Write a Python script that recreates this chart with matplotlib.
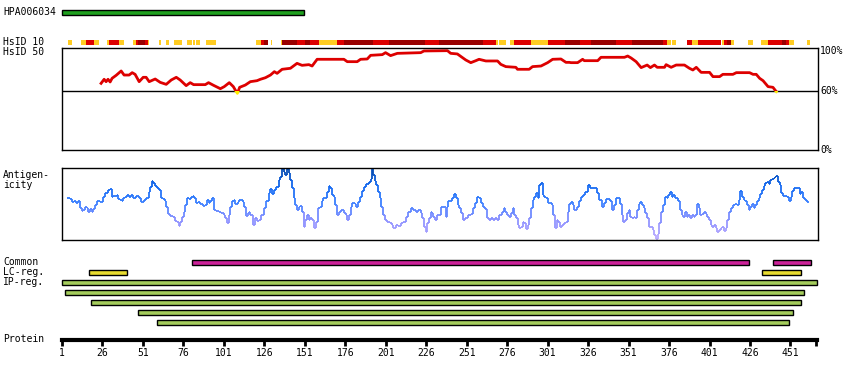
import numpy as np
import matplotlib
matplotlib.use('Agg')
import matplotlib.pyplot as plt
from matplotlib.collections import LineCollection
from matplotlib.colors import LinearSegmentedColormap, Normalize
from matplotlib.patches import Rectangle

# ---- data (residue positions) ----
protein_len = 467.4
antigen_name = 'HPA006034'
antigen_span = (1, 150.4)

# HsID 10 strip: (start, end, level) 1=low, 2=mid, 3=high
hsid10 = [(5, 7, 1), (13, 16, 1), (16, 21, 2), (21, 24, 1), (29, 30, 1), (30, 36, 2), (36, 39, 1),
          (45, 47, 1), (47, 48, 2), (48, 52, 3), (52, 54, 2), (54, 55, 1), (61, 62, 1), (65, 67, 1),
          (70, 75, 1), (78, 81, 1), (82, 83, 1), (84, 86, 1), (90, 96, 1), (121, 124, 1), (124, 126, 2),
          (126, 128, 3), (130, 131, 1), (136, 137, 1), (137, 146, 3), (146, 151, 2), (151, 154, 3),
          (154, 160, 2), (160, 171, 1), (171, 175, 2), (175, 193, 3), (193, 203, 2), (203, 225, 3),
          (225, 234, 2), (234, 261, 3), (261, 269, 2), (269, 270.5, 1), (271, 275, 1), (278, 280, 1),
          (280, 291, 2), (291, 301, 1), (301, 312, 2), (312, 321, 3), (321, 328, 2), (328, 343, 3),
          (343, 353, 2), (353, 372, 3), (372, 375, 2), (375, 377, 1), (378, 380, 1), (387, 390, 2),
          (390, 394, 1), (394, 408, 2), (409, 410, 1), (410, 412, 2), (412, 414, 3), (414, 416, 1),
          (425, 428, 1), (433, 437, 1), (437, 446, 2), (446, 448, 3), (448, 450, 2), (450, 453, 1),
          (461, 463, 1)]

# HsID 50 identity curve (%)
hs50_res = [25.1, 27.0, 28.2, 29.4, 30.7, 31.9, 34.4, 37.5, 39.3, 42.4, 44.3, 46.1, 48.6, 51.1, 52.9,
            54.8, 58.5, 61.6, 65.3, 68.4, 71.5, 73.9, 77.6, 80.1, 82.2, 89.4, 91.4, 94.5, 98.7, 101.1,
            104.2, 106.7, 107.9, 109.2, 110.6, 114.1, 117.2, 121.3, 123.4, 126.5, 129.6, 132.0, 133.7,
            136.8, 141.9, 146.0, 149.1, 153.3, 155.3, 158.4, 174.9, 177.0, 183.1, 185.2, 189.3, 191.4,
            198.6, 200.6, 203.7, 207.9, 222.3, 224.3, 238.8, 240.8, 244.9, 250.1, 253.2, 256.3, 258.3,
            262.5, 269.7, 271.7, 274.8, 281.0, 282.0, 289.2, 291.3, 296.5, 300.6, 303.7, 308.8, 311.9,
            314.0, 315.0, 319.1, 322.2, 323.2, 331.5, 333.5, 348.0, 350.0, 352.1, 355.2, 358.3, 362.0,
            364.0, 366.5, 368.2, 372.7, 373.7, 376.8, 379.9, 385.0, 388.1, 390.2, 392.3, 395.3, 400.5,
            402.6, 406.7, 408.7, 414.9, 417.0, 425.2, 427.3, 429.3, 431.4, 433.5, 436.6, 439.6, 441.7]
hs50_pct = [67.3, 71.4, 69.0, 71.4, 68.7, 72.4, 75.4, 79.8, 75.7, 75.7, 78.1, 76.4, 69.0, 73.4, 73.4,
            69.0, 71.7, 68.3, 66.3, 70.7, 73.4, 70.7, 65.0, 68.0, 66.0, 66.0, 68.0, 65.3, 61.9, 64.0,
            68.0, 64.0, 60.6, 57.2, 63.3, 65.6, 69.0, 70.0, 71.4, 73.0, 75.7, 79.1, 77.4,
            81.5, 82.5, 87.5, 85.5, 86.2, 84.8, 91.6, 91.6, 89.2, 89.2, 91.6, 91.9, 95.6,
            96.3, 98.3, 95.3, 97.6, 98.3, 100.0, 100.3, 97.6, 97.0, 90.9, 88.2, 90.2, 91.6,
            89.9, 89.9, 86.5, 84.2, 83.5, 81.5, 81.5, 84.2, 84.8, 88.2, 91.6, 91.9, 88.5,
            88.5, 88.2, 88.2, 91.6, 90.2, 90.2, 93.6, 93.6, 94.9, 92.9, 89.2, 83.2, 85.8,
            83.2, 85.8, 83.5, 83.5, 86.2, 83.5, 85.8, 85.8, 82.5, 80.8, 83.5, 78.4, 78.4,
            74.1, 74.1, 76.4, 76.4, 78.1, 78.1, 76.4, 76.4, 72.4, 70.0, 64.0, 63.3, 58.9]
hs50_cut = 60

# Antigenicity profile
ant_res = [4.3, 5.9, 7.0, 8.4, 9.6, 11.1, 12.1, 13.1, 14.2, 15.2, 16.2, 17.3, 18.3, 19.3, 20.4, 21.4,
           22.4, 24.5, 26.1, 27.6, 29.6, 30.7, 31.7, 32.7, 34.8, 35.8, 36.8, 37.9, 38.9, 40.0, 41.0,
           42.4, 43.6, 45.1, 46.7, 48.2, 49.6, 51.3, 52.9, 54.4, 55.4, 56.4, 57.4, 58.5, 59.5, 61.0,
           62.0, 63.6, 64.7, 65.3, 66.1, 67.8, 69.4, 70.8, 71.9, 72.9, 73.9, 75.0, 76.0, 77.0, 78.0,
           79.5, 80.5, 81.8, 82.6, 83.6, 84.8, 86.3, 87.9, 89.4, 90.4, 91.4, 92.5, 93.5, 94.5, 96.0,
           97.6, 99.1, 100.7, 101.7, 102.8, 103.8, 104.8, 105.9, 106.9, 107.9, 109.4, 110.4, 111.4,
           112.5, 113.5, 114.5, 115.8, 116.6, 117.2, 118.6, 119.9, 121.3, 122.8, 124.0, 125.4, 126.9,
           128.5, 129.6, 130.6, 131.6, 133.1, 134.7, 135.7, 136.8, 137.8, 138.8, 139.9, 140.9, 141.9,
           142.9, 144.0, 145.0, 146.0, 147.1, 148.1, 149.1, 150.2, 151.2, 152.2, 153.2, 154.3, 155.3,
           156.7, 157.8, 159.0, 160.0, 161.1, 162.1, 163.1, 164.2, 165.6, 166.6, 167.7, 168.7, 169.7,
           170.8, 171.8, 173.4, 174.9, 175.9, 176.9, 178.0, 179.0, 180.0, 181.5, 182.5, 183.5, 184.6,
           185.8, 187.2, 188.7, 190.3, 191.4, 192.4, 193.0, 193.8, 194.9, 195.9, 196.9, 198.0, 199.0,
           200.2, 201.7, 203.1, 204.3, 205.4, 206.8, 208.5, 209.9, 211.3, 213.0, 214.4, 216.1, 217.5,
           219.2, 220.6, 222.3, 223.3, 224.3, 225.3, 226.4, 227.4, 228.4, 229.5, 230.1, 231.4, 232.2,
           233.7, 234.7, 236.3, 237.6, 238.4, 239.2, 240.4, 241.9, 242.9, 244.0, 245.0, 246.0, 247.0,
           248.1, 249.5, 251.2, 253.2, 254.7, 255.9, 257.3, 258.4, 259.4, 260.8, 262.1, 263.1, 264.6,
           265.6, 266.6, 268.1, 269.3, 270.7, 272.2, 273.4, 274.2, 275.5, 276.9, 278.0, 279.0, 280.0,
           281.0, 282.1, 283.1, 284.1, 285.2, 286.2, 287.2, 288.2, 289.3, 290.3, 291.3, 292.4, 293.4,
           294.4, 295.5, 296.5, 297.5, 298.5, 299.6, 300.6, 302.0, 303.1, 304.1, 305.1, 306.2, 307.2,
           308.2, 309.3, 310.5, 311.9, 313.0, 314.0, 315.0, 316.1, 317.1, 318.5, 319.8, 321.2, 322.6,
           323.9, 325.3, 326.8, 328.4, 329.4, 330.9, 332.5, 334.0, 335.2, 336.7, 338.1, 339.1, 340.4,
           341.4, 342.8, 344.3, 345.3, 346.3, 347.3, 348.6, 349.6, 350.6, 351.7, 352.7, 353.7, 354.7,
           355.8, 356.8, 357.8, 358.9, 359.9, 360.9, 362.0, 363.0, 364.4, 365.5, 366.5, 367.5, 368.6,
           369.6, 370.6, 371.6, 373.1, 374.1, 375.1, 376.2, 377.2, 378.2, 379.3, 380.3, 381.3, 382.4,
           383.4, 384.4, 385.4, 386.5, 387.5, 388.5, 389.6, 390.8, 391.8, 392.9, 393.9, 394.9, 396.0,
           397.0, 398.0, 399.0, 400.1, 401.1, 402.1, 403.2, 404.2, 405.2, 406.2, 407.3, 408.3, 409.3,
           410.4, 411.4, 412.4, 413.5, 414.9, 416.3, 417.4, 418.4, 419.4, 420.5, 421.5, 422.5, 423.6,
           424.6, 425.6, 426.6, 427.7, 428.7, 429.7, 430.8, 431.8, 432.8, 433.9, 434.9, 435.9, 436.9,
           438.0, 439.0, 440.0, 441.1, 441.7, 442.7, 443.7, 444.8, 445.8, 447.2, 448.3, 449.5, 450.5,
           451.6, 452.6, 454.0, 455.1, 456.1, 457.1, 458.2, 459.2, 460.6, 461.9]
ant_val = [0.16, 0.13, 0.05, 0.08, 0.02, 0.07, -0.10, -0.20, -0.17, -0.07, -0.12, -0.21, -0.14, -0.21,
           -0.14, -0.03, 0.07, 0.05, 0.20, 0.30, 0.39, 0.42, 0.20, 0.23, 0.25, 0.14, 0.11, 0.08, 0.16,
           0.20, 0.25, 0.19, 0.25, 0.18, 0.21, 0.16, 0.05, 0.12, 0.16, 0.34, 0.48, 0.64, 0.57, 0.51,
           0.45, 0.38, 0.18, 0.14, 0.07, -0.07, -0.29, -0.32, -0.35, -0.47, -0.51, -0.60, -0.49, -0.35,
           -0.21, -0.03, 0.18, 0.14, 0.20, 0.23, 0.18, 0.02, 0.05, -0.01, -0.05, -0.03, 0.11, 0.02,
           0.08, 0.18, -0.17, -0.20, -0.21, -0.26, -0.31, -0.40, -0.54, -0.31, -0.07, 0.08, 0.12,
           -0.01, 0.05, 0.12, 0.10, 0.05, -0.07, -0.32, -0.26, -0.21, -0.31, -0.57, -0.40, -0.47,
           -0.45, -0.31, -0.12, 0.07, 0.30, 0.42, 0.27, 0.39, 0.48, 0.67, 0.76, 0.97, 0.90, 0.81,
           0.97, 0.85, 0.67, 0.44, 0.18, -0.03, -0.17, -0.07, -0.05, -0.21, -0.63, -0.45, -0.31,
           -0.45, -0.40, -0.45, -0.68, -0.49, -0.12, -0.07, 0.07, 0.16, 0.18, 0.34, 0.51, 0.44, 0.25,
           0.20, -0.03, -0.31, -0.21, -0.17, -0.26, -0.31, -0.45, -0.31, -0.07, 0.02, -0.01, -0.07,
           0.05, 0.20, 0.36, 0.48, 0.55, 0.62, 0.69, 0.99, 0.81, 0.64, 0.53, 0.34, 0.16, -0.07, -0.31,
           -0.45, -0.51, -0.54, -0.57, -0.68, -0.57, -0.60, -0.54, -0.49, -0.35, -0.21, -0.10, -0.17,
           -0.23, -0.17, -0.26, -0.40, -0.63, -0.77, -0.54, -0.40, -0.21, -0.26, -0.35, -0.45, -0.31,
           -0.31, -0.07, -0.07, -0.35, -0.07, 0.07, 0.08, 0.16, 0.27, 0.16, -0.03, -0.12, -0.26, -0.45,
           -0.40, -0.31, -0.29, -0.12, 0.02, 0.20, 0.16, 0.02, -0.07, -0.14, -0.40, -0.45, -0.38,
           -0.45, -0.40, -0.45, -0.31, -0.21, -0.10, -0.21, -0.31, -0.35, -0.26, -0.12, -0.31, -0.40,
           -0.58, -0.66, -0.63, -0.49, -0.54, -0.70, -0.57, -0.40, -0.12, 0.11, 0.20, 0.30, 0.16,
           0.53, 0.57, 0.25, 0.20, 0.16, 0.02, 0.02, -0.03, -0.31, -0.68, -0.45, -0.49, -0.63, -0.58,
           -0.54, -0.49, -0.21, -0.01, 0.05, -0.03, -0.17, -0.07, 0.07, 0.20, 0.25, 0.34, 0.53, 0.45,
           0.45, 0.44, 0.30, 0.11, -0.07, 0.02, 0.14, 0.14, 0.07, -0.17, -0.03, 0.16, 0.16, -0.01,
           -0.31, -0.49, -0.45, -0.26, -0.17, -0.35, -0.40, -0.35, -0.40, -0.17, -0.01, 0.05, -0.03,
           -0.12, -0.26, -0.40, -0.63, -0.63, -0.72, -0.86, -0.97, -0.82, -0.54, -0.21, -0.03, 0.20,
           0.16, 0.25, 0.34, 0.20, 0.25, 0.16, 0.18, 0.07, -0.17, -0.31, -0.35, -0.21, -0.35, -0.31,
           -0.40, -0.31, -0.35, -0.31, -0.01, -0.12, -0.31, -0.29, -0.21, -0.29, -0.35, -0.45, -0.57,
           -0.63, -0.58, -0.66, -0.77, -0.72, -0.68, -0.63, -0.75, -0.68, -0.45, -0.21, -0.10, -0.03,
           -0.01, -0.03, 0.11, 0.36, 0.20, 0.11, 0.08, -0.03, -0.17, -0.07, -0.01, -0.12, -0.03, 0.07,
           0.16, 0.27, 0.39, 0.51, 0.57, 0.62, 0.55, 0.67, 0.69, 0.73, 0.76, 0.79, 0.62, 0.53, 0.30,
           0.23, 0.23, 0.20, 0.08, 0.20, 0.36, 0.45, 0.45, 0.44, 0.27, 0.32, 0.16, 0.11, 0.05, 0.05]

# region tracks: (start, end)
common = [(81.2, 425.2), (440.1, 463.5)]
lc_reg = [(17.9, 41.0), (433.2, 457.3)]
ip_reg = [(1.2, 467.2), (3.0, 459.2), (19.1, 457.3), (48.2, 452.4), (59.9, 449.9)]

tick_pos = [1, 26, 51, 76, 101, 126, 151, 176, 201, 226, 251, 276, 301, 326, 351, 376, 401, 426, 451, 467]
tick_lab = [str(t) for t in tick_pos[:-1]] + ['']

hsid10_colors = {1: '#ffcc22', 2: '#dd0000', 3: '#990000'}

# ---- layout in pixels ----
W, H = 850, 380
FONT = dict(family='DejaVu Sans Mono', fontsize=7, color='black')


def box(x0, y0, x1, y1):
    return [x0 / W, 1 - y1 / H, (x1 - x0) / W, (y1 - y0) / H]


def label(x, y, s, **kw):
    fig.text(x / W, 1 - y / H, s, va='center', ha=kw.pop('ha', 'left'), **FONT, **kw)


def track_axes(y0, y1, x1=817):
    ax = fig.add_axes(box(62, y0, x1, y1))
    ax.set_xlim(1, protein_len)
    ax.set_axis_off()
    return ax


fig = plt.figure(figsize=(W / 100, H / 100), dpi=100)

# antigen bar
ax = track_axes(10, 15)
ax.set_ylim(-0.5, 0.5)
ax.barh(0, antigen_span[1] - antigen_span[0], left=antigen_span[0], height=1,
        color='#1fa01f', edgecolor='black', lw=1, clip_on=False)
label(3, 12, antigen_name)

# HsID 10 strip
ax = track_axes(40, 45)
ax.set_ylim(-0.5, 0.5)
for s, e, lev in hsid10:
    ax.barh(0, e - s, left=s, height=1, color=hsid10_colors[lev], lw=0)
label(3, 42, 'HsID 10')

# HsID 50 panel
ax = fig.add_axes(box(62, 48, 818, 150))
ax.set_xlim(1, protein_len)
ax.set_ylim(0, 103)
ax.set_xticks([]); ax.set_yticks([])
for sp in ax.spines.values():
    sp.set_linewidth(1)
ax.axhline(hs50_cut, color='black', lw=1)
hi, = ax.plot(hs50_res, hs50_pct, color='#dd0000', lw=2)
lo, = ax.plot(hs50_res, hs50_pct, color='#ffee00', lw=2)
hi.set_clip_path(Rectangle((0, hs50_cut), 500, 100, transform=ax.transData))
lo.set_clip_path(Rectangle((0, 0), 500, hs50_cut, transform=ax.transData))
for pct in (100, hs50_cut, 0):
    ax.text(1.003, pct / 103, f'{pct}%', transform=ax.transAxes, va='center', ha='left', **FONT)
label(3, 52, 'HsID 50')

# antigenicity panel
ax = fig.add_axes(box(62, 168, 818, 240))
ax.set_xlim(1, protein_len)
ax.set_ylim(-1, 1)
ax.set_xticks([]); ax.set_yticks([])
for sp in ax.spines.values():
    sp.set_linewidth(1)
cmap = LinearSegmentedColormap.from_list('ant', ['#b8aaff', '#8a90ff', '#3a80ff', '#1268f0', '#0648a8'])
x = np.asarray(ant_res); y = np.asarray(ant_val)
# stepped trace: horizontal run then vertical jump at each residue
segs, cols = [], []
for i in range(len(x) - 1):
    segs.append([(x[i], y[i]), (x[i + 1], y[i])]); cols.append(y[i])
    segs.append([(x[i + 1], y[i]), (x[i + 1], y[i + 1])]); cols.append((y[i] + y[i + 1]) / 2)
lc = LineCollection(segs, cmap=cmap, norm=Normalize(-0.9, 1.0), linewidths=1.3)
lc.set_array(np.array(cols))
ax.add_collection(lc)
label(3, 175, 'Antigen-')
label(3, 185, 'icity')

# region tracks
ax = track_axes(257, 327)
ax.set_ylim(6.5, -0.5)
rows = [(0, common, '#cc2299'), (1, lc_reg, '#e8dc30')] + [(2 + i, [r], '#a4cc5c') for i, r in enumerate(ip_reg)]
for row, spans, col in rows:
    for s, e in spans:
        ax.barh(row, e - s, left=s, height=0.5, color=col, edgecolor='black', lw=1, clip_on=False)
label(3, 262, 'Common')
label(3, 272, 'LC-reg.')
label(3, 282, 'IP-reg.')

# protein axis
ax = fig.add_axes(box(62, 330, 817, 340))
ax.set_xlim(1, protein_len)
ax.set_ylim(0, 1)
for k in ('top', 'left', 'right'):
    ax.spines[k].set_visible(False)
ax.spines['bottom'].set_linewidth(3)
ax.set_yticks([])
ax.set_xticks(tick_pos, tick_lab, family='DejaVu Sans Mono', fontsize=7)
ax.tick_params(axis='x', direction='out', length=4, width=2, pad=2)
ax.patch.set_visible(False)
label(3, 339, 'Protein')

fig.savefig('out.png', dpi=100)
